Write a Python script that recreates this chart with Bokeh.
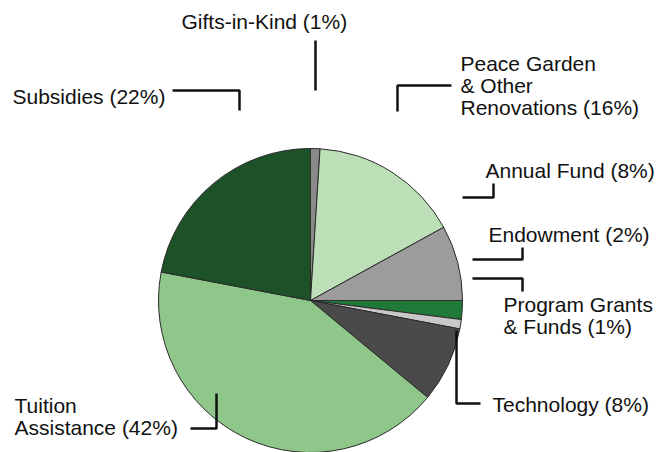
import math
from bokeh.plotting import figure
from bokeh.models import Range1d, ColumnDataSource
from bokeh.core.properties import value
from bokeh.embed import file_html
from bokeh.resources import INLINE

# ---- data (clockwise from 12 o'clock) ----
categories = ["Gifts-in-Kind", "Peace Garden & Other Renovations", "Annual Fund",
              "Endowment", "Program Grants & Funds", "Technology",
              "Tuition Assistance", "Subsidies"]
percents = [1, 16, 8, 2, 1, 8, 42, 22]
colors = ["#8a8a8a", "#bcdfb8", "#9c9c9c", "#1f7a3a", "#c8c8c8", "#4a4a4a",
          "#8fc78b", "#1d5228"]

label_lines = [["Gifts-in-Kind (1%)"],
               ["Peace Garden", "& Other", "Renovations (16%)"],
               ["Annual Fund (8%)"],
               ["Endowment (2%)"],
               ["Program Grants", "& Funds (1%)"],
               ["Technology (8%)"],
               ["Tuition", "Assistance (42%)"],
               ["Subsidies (22%)"]]

# ---- layout (reference pixel coordinates) ----
W, H = 669, 452
def Y(py):
    return H - py

cx, cy, r = 310, Y(300), 152
label_pos = [(181, 21), (460, 63), (485, 170), (488, 234), (503, 304),
             (492, 404), (14, 405), (12, 96)]
line_gap = 22
leaders = [
    [(315, 40), (315, 90)],
    [(451, 85), (397, 85), (397, 111)],
    [(462, 197), (493, 197), (493, 183)],
    [(472, 259), (522, 259), (522, 247)],
    [(472, 278), (522, 278), (522, 291)],
    [(456, 330), (456, 403), (480, 403)],
    [(216, 393), (216, 428), (190, 428)],
    [(172, 90), (239, 90), (239, 110)],
]

total = float(sum(percents))
starts, ends = [], []
cum = 0.0
for v in percents:
    a = cum / total
    cum += v
    b = cum / total
    starts.append(math.radians(90 - b * 360))
    ends.append(math.radians(90 - a * 360))

src = ColumnDataSource(dict(start=starts, end=ends, color=colors, cat=categories,
                            pct=percents))

p = figure(width=W, height=H, output_backend="svg", toolbar_location=None,
           x_range=Range1d(0, W), y_range=Range1d(0, H),
           x_axis_type=None, y_axis_type=None, min_border=0)
p.grid.visible = False
p.outline_line_color = None
p.background_fill_color = "white"

p.wedge(x=cx, y=cy, radius=r, start_angle="start", end_angle="end",
        fill_color="color", line_color="#2a2a2a", line_width=1, source=src)

for lines, (lx, ly) in zip(label_lines, label_pos):
    for i, t in enumerate(lines):
        p.text(x=[lx], y=[Y(ly + i * line_gap)], text=[t],
               text_font=value("Liberation Sans"), text_font_size="21px",
               text_align="left", text_baseline="middle", text_color="#111111")

for pts in leaders:
    p.line(x=[q[0] for q in pts], y=[Y(q[1]) for q in pts],
           line_color="#111111", line_width=2.5)

open("out.html", "w").write(file_html(p, INLINE))
